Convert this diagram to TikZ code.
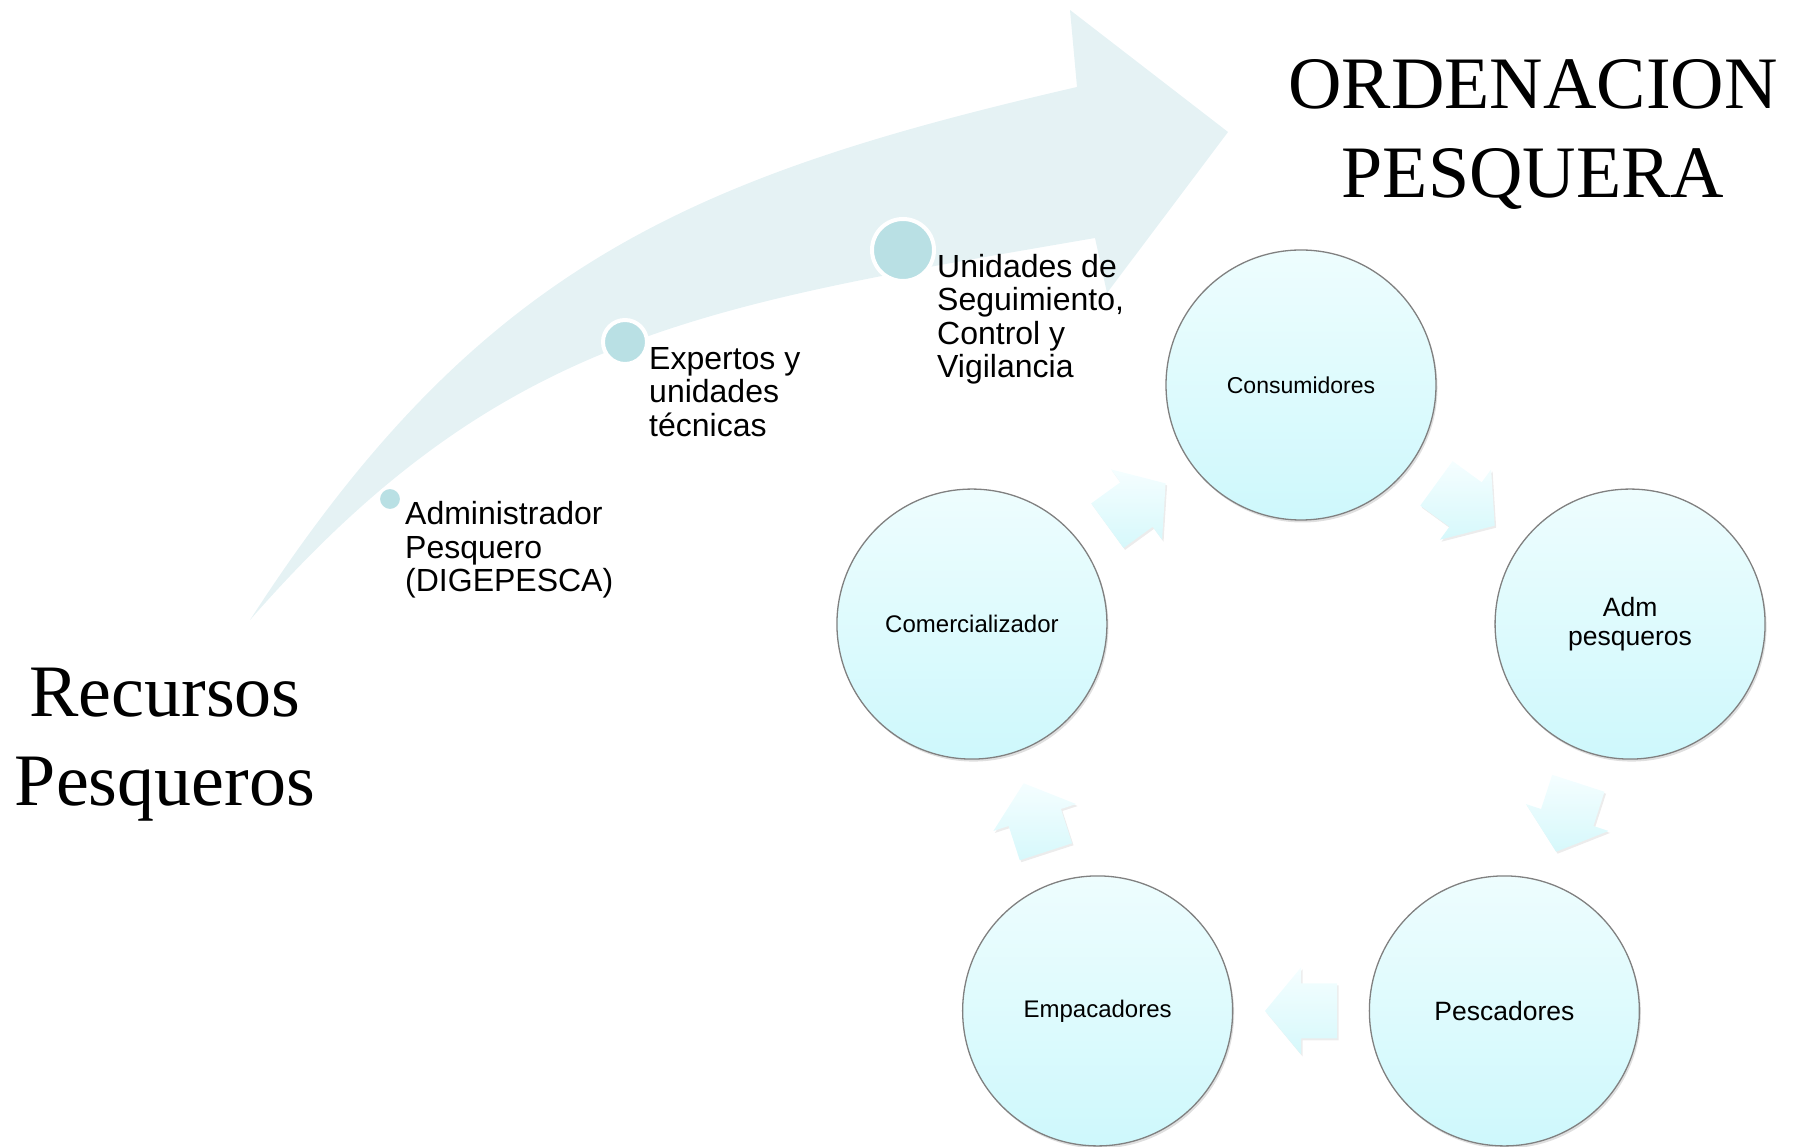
\documentclass[tikz,border=0pt]{standalone}
\usepackage{fontspec}
\setmainfont{Liberation Sans}
\newfontfamily\titlefont{Liberation Serif}
\usetikzlibrary{calc,shadows}

\definecolor{bandblue}{RGB}{229,242,244}
\definecolor{dotblue}{RGB}{185,224,228}
\definecolor{ringtop}{RGB}{238,253,254}
\definecolor{ringbot}{RGB}{206,248,252}
\definecolor{flowtop}{RGB}{245,254,255}
\definecolor{flowbot}{RGB}{214,248,251}

\tikzset{
  actor/.style={circle, draw=gray, line width=1.3pt, minimum size=270pt, inner sep=0pt,
    top color=ringtop, bottom color=ringbot, align=center,
    drop shadow={shadow xshift=1.5pt, shadow yshift=-2.5pt, opacity=0.25}},
  flow/.style={top color=flowtop, bottom color=flowbot,
    drop shadow={shadow xshift=1.5pt, shadow yshift=-2pt, opacity=0.15}},
  milestone/.style={circle, fill=dotblue, draw=white, inner sep=0pt},
  stage/.style={anchor=west, align=left, inner sep=0pt, font=\fontsize{32}{33.5}\selectfont},
  bigtitle/.style={align=center, inner sep=0pt, font=\titlefont\fontsize{74}{89}\selectfont}
}

\begin{document}
\begin{tikzpicture}[x=1pt, y=1pt]
  \useasboundingbox (0,0) rectangle (1798,1146);

  % curved band
  \fill[bandblue] (250,526) .. controls (478,879) and (687,969) .. (1077,1059)
    -- (1070,1136) -- (1228,1014) -- (1107,853) -- (1095,908)
    .. controls (701,840) and (500,812) .. (250,526) -- cycle;

  % milestones
  \node[milestone, minimum size=23pt, line width=3pt] (m1) at (390,647) {};
  \node[milestone, minimum size=44pt, line width=4pt] (m2) at (625,804) {};
  \node[milestone, minimum size=62pt, line width=4pt] (m3) at (903,896) {};
  \node[stage] (s1) at (405,596) {Administrador\\Pesquero\\(DIGEPESCA)};
  \node[stage] (s2) at (649,754) {Expertos y\\unidades\\t\'ecnicas};
  \node[stage] (s3) at (937,827) {Unidades de\\Seguimiento,\\Control y\\Vigilancia};

  % titles
  \node[bigtitle] (source) at (165,401) {Recursos\\Pesqueros};
  \node[bigtitle] (goal) at (1533,1011) {ORDENACION\\PESQUERA};

  % cycle
  \coordinate (hub) at (1301,415);
  \foreach \name/\ang/\sz/\txt in {cons/90/23/Consumidores, adm/18/26.5/{Adm\\pesqueros},
      pesc/-54/26.5/Pescadores, emp/-126/24/Empacadores, com/162/24/Comercializador} {
    \node[actor, font=\fontsize{\sz}{29}\selectfont] (\name) at ($(hub)+(\ang:346)$) {\txt};
  }
  \foreach \from/\to/\ang in {com/cons/36, cons/adm/-36, adm/pesc/-108, pesc/emp/180, emp/com/108} {
    \path[flow, shift={($(\from)!0.5!(\to)$)}, rotate=\ang]
      (-36,-27.5) -- (0,-27.5) -- (0,-43.5) -- (36,0) -- (0,43.5) -- (0,27.5) -- (-36,27.5) -- cycle;
  }
\end{tikzpicture}
\end{document}
